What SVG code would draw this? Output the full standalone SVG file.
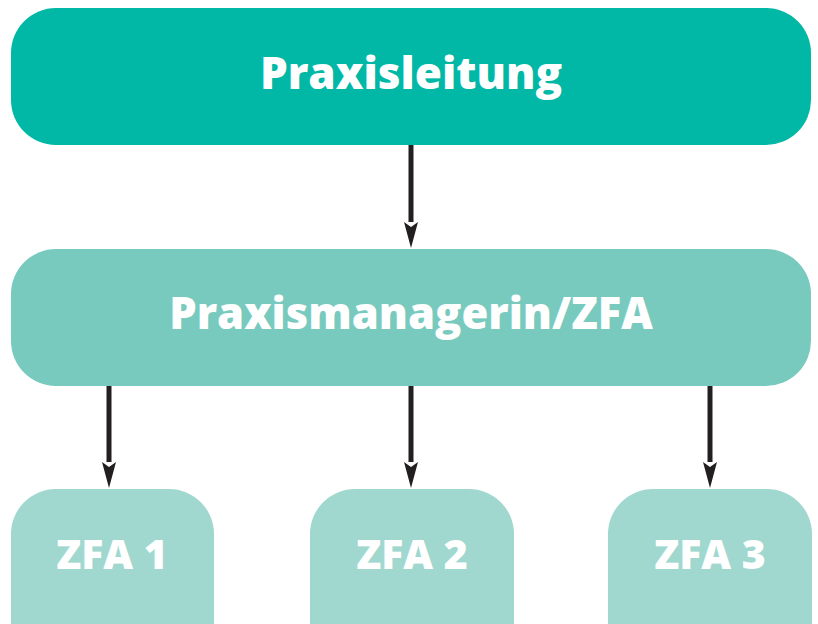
<svg xmlns="http://www.w3.org/2000/svg" width="818" height="624" viewBox="0 0 818 624">
<style>
text{font-family:"Open Sans","Lato","DejaVu Sans",sans-serif;font-weight:800;fill:#ffffff;text-anchor:middle}
.conn line{stroke:#231f20;stroke-width:5}
.conn path{fill:#231f20}
.top{fill:#00b8a5}
.mid{fill:#78cabe}
.leaf{fill:#a0d8cf}
</style>
<rect width="818" height="624" fill="#ffffff"/>
<g id="praxisleitung">
<rect class="top" x="11" y="8" width="800" height="137" rx="45"/>
<text x="411" y="89" font-size="44">Praxisleitung</text>
</g>
<g id="praxismanagerin">
<rect class="mid" x="11" y="249" width="800" height="137" rx="45"/>
<text x="411" y="329" font-size="43.5">Praxismanagerin/ZFA</text>
</g>
<g id="zfa1">
<rect class="leaf" x="11" y="489" width="203" height="180" rx="45"/>
<text x="112" y="569" font-size="41">ZFA 1</text>
</g>
<g id="zfa2">
<rect class="leaf" x="310" y="489" width="204" height="180" rx="45"/>
<text x="412" y="569" font-size="41">ZFA 2</text>
</g>
<g id="zfa3">
<rect class="leaf" x="608" y="489" width="204" height="180" rx="45"/>
<text x="710" y="569" font-size="41">ZFA 3</text>
</g>
<g class="conn">
<line x1="411" y1="145" x2="411" y2="222"/>
<path d="M404,222 L411,227 L418,222 L411,248 Z"/>
<line x1="109" y1="386" x2="109" y2="462"/>
<path d="M102,462 L109,467 L116,462 L109,488 Z"/>
<line x1="411" y1="386" x2="411" y2="462"/>
<path d="M404,462 L411,467 L418,462 L411,488 Z"/>
<line x1="710" y1="386" x2="710" y2="462"/>
<path d="M703,462 L710,467 L717,462 L710,488 Z"/>
</g>
</svg>
